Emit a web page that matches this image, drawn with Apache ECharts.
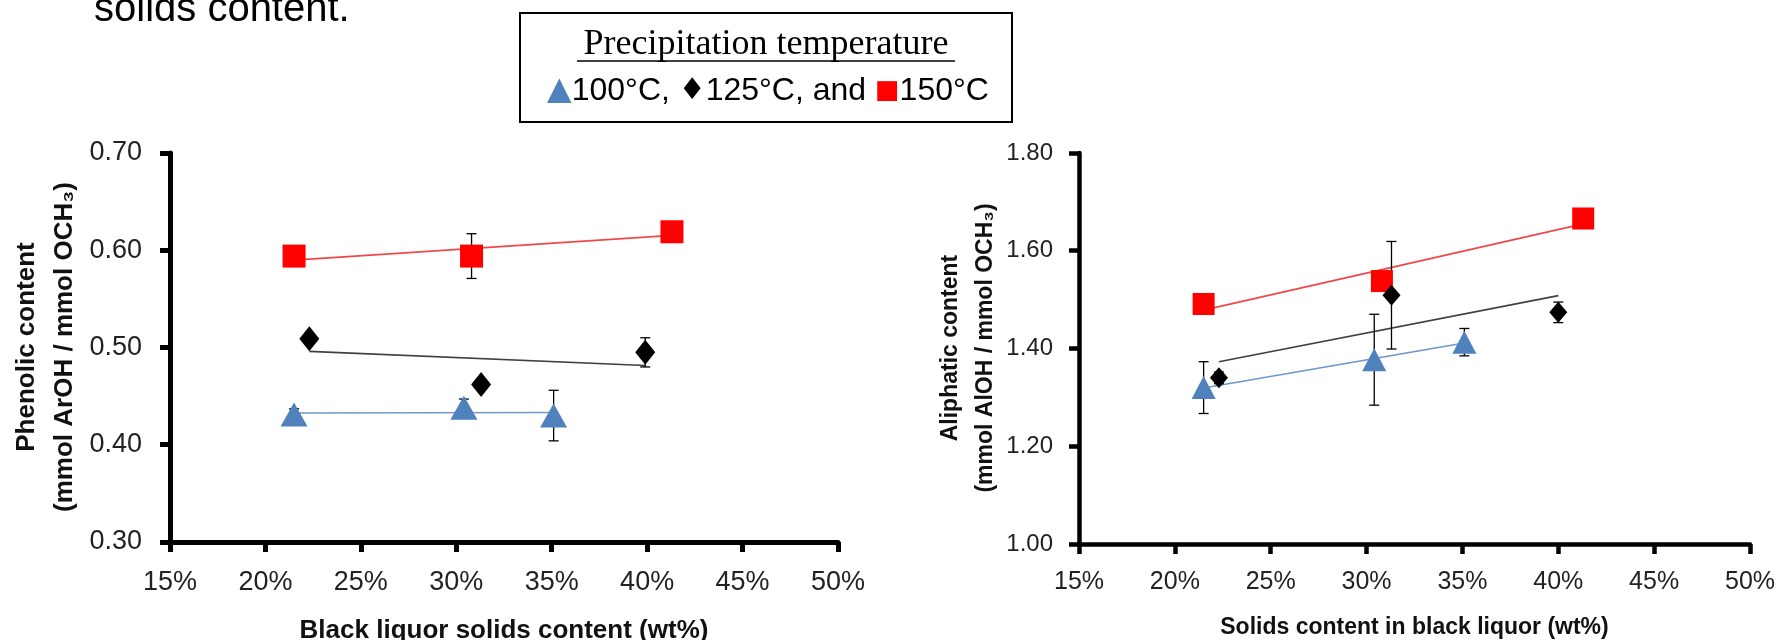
<!DOCTYPE html>
<html><head><meta charset="utf-8">
<script src="https://cdn.jsdelivr.net/npm/echarts@6/dist/echarts.min.js"></script>
<style>html,body{margin:0;padding:0;background:#fff}#c{width:1777px;height:640px}</style>
</head><body><div id="c"></div>
<script>
// ---------- data ----------
const xMin = 15, xMax = 50, xStep = 5;           // % solids
// Phenolic content (left chart)
const phenX100 = [21.5, 30.4, 35.1];
const phenY100 = [0.431, 0.438, 0.430];
const phenE100 = [0.006, 0.009, 0.026];
const phenX125 = [22.3, 31.3, 39.9];
const phenY125 = [0.509, 0.462, 0.495];
const phenE125 = [0, 0, 0.015];
const phenX150 = [21.5, 30.8, 41.3];
const phenY150 = [0.594, 0.594, 0.619];
const phenE150 = [0, 0.023, 0];
// Aliphatic content (right chart)
const aliX100 = [21.5, 30.4, 35.1];
const aliY100 = [1.320, 1.377, 1.413];
const aliE100 = [0.053, 0.093, 0.028];
const aliX125 = [22.3, 31.3, 40.0];
const aliY125 = [1.340, 1.509, 1.474];
const aliE125 = [0.012, 0.110, 0.021];
const aliX150 = [21.5, 30.8, 41.3];
const aliY150 = [1.491, 1.538, 1.666];
const aliE150 = [0, 0, 0];

const titleText = 'solids content.';
const legendTitle = 'Precipitation temperature';
const leftYName = ['Phenolic content', '(mmol ArOH / mmol OCH₃)'];
const rightYName = ['Aliphatic content', '(mmol AlOH / mmol OCH₃)'];
const leftXName = 'Black liquor solids content (wt%)';
const rightXName = 'Solids content in black liquor (wt%)';

// ---------- helpers ----------
const SANS = 'Liberation Sans';
const BLUE = '#4F81BD', BLACK = '#000000', RED = '#FF0000';

function pts(xs, ys) { return xs.map((x, i) => [x, ys[i]]); }
function errPts(xs, ys, es) { return xs.map((x, i) => [x, ys[i], es[i]]).filter(d => d[2] > 0); }
function trend(xs, ys) {
  const n = xs.length;
  const mx = xs.reduce((a, b) => a + b, 0) / n;
  const my = ys.reduce((a, b) => a + b, 0) / n;
  let sxx = 0, sxy = 0;
  for (let i = 0; i < n; i++) { sxx += (xs[i] - mx) ** 2; sxy += (xs[i] - mx) * (ys[i] - my); }
  const b = sxy / sxx, a = my - b * mx;
  const x0 = Math.min(...xs), x1 = Math.max(...xs);
  return [[x0, a + b * x0], [x1, a + b * x1]];
}
function errRender(params, api) {
  const x = api.value(0), y = api.value(1), e = api.value(2);
  const t = api.coord([x, y + e]);
  const b = api.coord([x, y - e]);
  const w = 5;
  const st = { stroke: '#000', lineWidth: 1.3 };
  return { type: 'group', children: [
    { type: 'line', shape: { x1: t[0], y1: t[1], x2: b[0], y2: b[1] }, style: st },
    { type: 'line', shape: { x1: t[0] - w, y1: t[1], x2: t[0] + w, y2: t[1] }, style: st },
    { type: 'line', shape: { x1: b[0] - w, y1: b[1], x2: b[0] + w, y2: b[1] }, style: st }
  ]};
}

function groupSeries(idx, X, Y, E, color, lineColor, symbol, size) {
  return [
    { type: 'line', xAxisIndex: idx, yAxisIndex: idx, data: trend(X, Y), symbol: 'none',
      lineStyle: { color: lineColor, width: 1.6 }, z: 2, silent: true },
    { type: 'custom', xAxisIndex: idx, yAxisIndex: idx, data: errPts(X, Y, E),
      renderItem: errRender, z: 3, silent: true },
    { type: 'scatter', xAxisIndex: idx, yAxisIndex: idx, data: pts(X, Y), symbol: symbol,
      symbolSize: size, itemStyle: { color: color, opacity: 1 }, z: 4 }
  ];
}

function xAxisDef(idx, lw, fs, margin) {
  return {
    type: 'value', gridIndex: idx, min: xMin, max: xMax, interval: xStep,
    axisLine: { show: true, onZero: false, lineStyle: { color: '#000', width: lw } },
    axisTick: { show: true, inside: false, length: 10, lineStyle: { color: '#000', width: lw } },
    axisLabel: { formatter: '{value}%', fontFamily: SANS, fontSize: fs, color: '#222', margin: margin,
      showMinLabel: true, showMaxLabel: true, hideOverlap: false },
    splitLine: { show: false }
  };
}
function yAxisDef(idx, min, max, step, lw, fs, margin) {
  return {
    type: 'value', gridIndex: idx, min: min, max: max, interval: step,
    axisLine: { show: true, onZero: false, lineStyle: { color: '#000', width: lw } },
    axisTick: { show: true, inside: false, length: 10, lineStyle: { color: '#000', width: lw } },
    axisLabel: { formatter: v => v.toFixed(2), fontFamily: SANS, fontSize: fs, color: '#222', margin: margin,
      showMinLabel: true, showMaxLabel: true },
    splitLine: { show: false }
  };
}

const chart = echarts.init(document.getElementById('c'), null, { renderer: 'canvas' });
const option = {
  backgroundColor: '#fff',
  animation: false,
  grid: [
    { left: 170, top: 153, width: 668, height: 389, containLabel: false, outerBoundsMode: 'none' },
    { left: 1079, top: 153, width: 671, height: 391, containLabel: false, outerBoundsMode: 'none' }
  ],
  xAxis: [
    Object.assign(xAxisDef(0, 5, 27, 27), { name: leftXName, nameLocation: 'middle', nameGap: 76,
      nameTextStyle: { fontFamily: SANS, fontSize: 26, fontWeight: 'bold', color: '#111' } }),
    Object.assign(xAxisDef(1, 4.5, 25, 26), { name: rightXName, nameLocation: 'middle', nameGap: 72,
      nameTextStyle: { fontFamily: SANS, fontSize: 23, fontWeight: 'bold', color: '#111' } })
  ],
  yAxis: [
    yAxisDef(0, 0.3, 0.7, 0.1, 5, 27, 28),
    yAxisDef(1, 1.0, 1.8, 0.2, 4.5, 24, 26)
  ],
  series: [].concat(
    groupSeries(0, phenX150, phenY150, phenE150, RED, '#F04848', 'rect', [23, 23]),
    groupSeries(0, phenX125, phenY125, phenE125, BLACK, '#404040', 'diamond', [20, 25]),
    groupSeries(0, phenX100, phenY100, phenE100, BLUE, '#7097CB', 'triangle', [27, 24]),
    groupSeries(1, aliX150, aliY150, aliE150, RED, '#F04848', 'rect', [22, 22]),
    groupSeries(1, aliX125, aliY125, aliE125, BLACK, '#404040', 'diamond', [18, 21]),
    groupSeries(1, aliX100, aliY100, aliE100, BLUE, '#7097CB', 'triangle', [24, 23])
  ),
  graphic: [
    { type: 'text', x: 94, y: 10, style: { text: titleText, fontFamily: SANS, fontSize: 40,
      fill: '#000', align: 'left', verticalAlign: 'middle' } },
    { type: 'rect', shape: { x: 520, y: 13, width: 492, height: 109 },
      style: { fill: '#fff', stroke: '#000', lineWidth: 2 } },
    { type: 'text', x: 766, y: 45, style: { text: legendTitle, fontFamily: 'Liberation Serif', fontSize: 36,
      fill: '#000', align: 'center', verticalAlign: 'middle' } },
    { type: 'line', shape: { x1: 577, y1: 61, x2: 955, y2: 61 }, style: { stroke: '#000', lineWidth: 1.5 } },
    { type: 'text', x: 768, y: 91, style: {
      text: '{tri|▲}100°C, {dia|♦}125°C, and {sq|■}150°C', fontFamily: SANS, fontSize: 32,
      fill: '#000', align: 'center', verticalAlign: 'middle',
      rich: { tri: { fill: BLUE, fontSize: 32, fontFamily: 'DejaVu Sans' },
              dia: { fill: '#000', fontSize: 30, fontFamily: 'DejaVu Sans' },
              sq: { fill: RED, fontSize: 26, fontFamily: 'DejaVu Sans' } } } },
    { type: 'text', x: 27, y: 347, rotation: Math.PI / 2, style: { text: leftYName[0], fontFamily: SANS,
      fontSize: 26, fontWeight: 'bold', fill: '#111', align: 'center', verticalAlign: 'middle' } },
    { type: 'text', x: 65, y: 347, rotation: Math.PI / 2, style: { text: leftYName[1], fontFamily: SANS,
      fontSize: 26, fontWeight: 'bold', fill: '#111', align: 'center', verticalAlign: 'middle' } },
    { type: 'text', x: 951, y: 348, rotation: Math.PI / 2, style: { text: rightYName[0], fontFamily: SANS,
      fontSize: 23, fontWeight: 'bold', fill: '#111', align: 'center', verticalAlign: 'middle' } },
    { type: 'text', x: 986, y: 348, rotation: Math.PI / 2, style: { text: rightYName[1], fontFamily: SANS,
      fontSize: 23, fontWeight: 'bold', fill: '#111', align: 'center', verticalAlign: 'middle' } }
  ]
};
chart.setOption(option);
</script>
</body></html>
